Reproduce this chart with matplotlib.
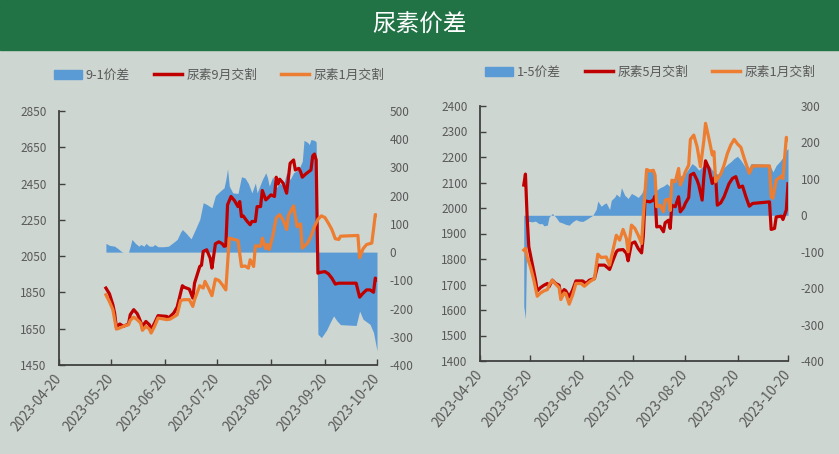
import matplotlib.pyplot as plt
import matplotlib.dates as mdates
from matplotlib.patches import Patch, Rectangle
from matplotlib.lines import Line2D
import pandas as pd

plt.rcParams['font.family'] = ['Noto Sans CJK SC', 'DejaVu Sans']
plt.rcParams['axes.unicode_minus'] = False

# ---- left panel: 9-1 spread ----
l_red_dates = ['05-17', '05-19', '05-21', '05-22', '05-23', '05-25', '05-27', '05-30', '05-31', '06-02',
               '06-04', '06-05', '06-07', '06-09', '06-11', '06-12', '06-14', '06-16', '06-21', '06-22',
               '06-25', '06-27', '06-30', '07-01', '07-04', '07-06', '07-07', '07-10', '07-11', '07-12',
               '07-14', '07-16', '07-17', '07-19', '07-21', '07-23', '07-24', '07-25', '07-26', '07-28',
               '07-30', '08-01', '08-02', '08-03', '08-04', '08-06', '08-08', '08-09', '08-11', '08-12',
               '08-14', '08-15', '08-17', '08-18', '08-20', '08-22', '08-23', '08-24', '08-25', '08-27',
               '08-29', '08-31', '09-02', '09-03', '09-05', '09-06', '09-07', '09-09', '09-12', '09-13',
               '09-14', '09-15', '09-16', '09-17', '09-20', '09-22', '09-24', '09-26', '09-28', '10-08',
               '10-10', '10-12', '10-14', '10-16', '10-18', '10-19', '10-20']
l_red = [1874, 1843, 1782, 1736, 1659, 1676, 1663, 1676, 1727, 1755,
         1733, 1712, 1663, 1690, 1672, 1644, 1681, 1722, 1718, 1709,
         1736, 1769, 1887, 1879, 1868, 1819, 1901, 1993, 2000, 2076,
         2085, 2039, 1984, 2118, 2129, 2118, 2104, 2107, 2333, 2379,
         2356, 2323, 2351, 2268, 2272, 2245, 2223, 2241, 2241, 2323,
         2323, 2412, 2360, 2369, 2388, 2379, 2485, 2448, 2474, 2452,
         2397, 2562, 2580, 2525, 2534, 2516, 2485, 2503, 2525, 2602,
         2613, 2580, 1956, 1960, 1965, 1953, 1929, 1896, 1901, 1901,
         1824, 1846, 1864, 1864, 1851, 1929, 1920]

l_org_dates = ['05-17', '05-19', '05-21', '05-23', '05-25', '05-28', '05-30', '05-31', '06-02', '06-04',
               '06-06', '06-07', '06-09', '06-11', '06-12', '06-14', '06-16', '06-21', '06-23', '06-27',
               '06-29', '07-01', '07-04', '07-06', '07-07', '07-10', '07-12', '07-13', '07-15', '07-17',
               '07-19', '07-21', '07-23', '07-25', '07-27', '07-29', '08-01', '08-03', '08-05', '08-07',
               '08-08', '08-10', '08-11', '08-14', '08-15', '08-17', '08-18', '08-19', '08-21', '08-23',
               '08-25', '08-27', '08-29', '08-30', '09-02', '09-03', '09-04', '09-06', '09-07', '09-10',
               '09-12', '09-14', '09-16', '09-18', '09-20', '09-22', '09-24', '09-26', '09-28', '09-29',
               '10-09', '10-10', '10-12', '10-14', '10-17', '10-18', '10-19', '10-20']
l_org = [1837, 1800, 1755, 1648, 1654, 1667, 1672, 1696, 1714, 1700,
         1681, 1641, 1663, 1648, 1626, 1663, 1709, 1700, 1703, 1727,
         1806, 1810, 1810, 1773, 1810, 1887, 1874, 1911, 1874, 1832,
         1924, 1916, 1892, 1864, 2149, 2144, 2136, 1993, 1996, 1984,
         2030, 1993, 2107, 2104, 2149, 2091, 2114, 2087, 2160, 2261,
         2279, 2248, 2197, 2274, 2327, 2268, 2213, 2228, 2094, 2122,
         2160, 2213, 2253, 2272, 2263, 2232, 2197, 2146, 2142, 2160,
         2164, 2041, 2091, 2114, 2122, 2197, 2279, 2274]

l_spr_dates = ['05-17', '05-19', '05-22', '05-24', '05-26', '05-27', '05-30', '05-31', '06-01', '06-03',
               '06-05', '06-06', '06-08', '06-09', '06-11', '06-13', '06-14', '06-16', '06-19', '06-22',
               '06-25', '06-27', '06-29', '06-30', '07-02', '07-05', '07-07', '07-10', '07-12', '07-14',
               '07-17', '07-19', '07-21', '07-24', '07-25', '07-26', '07-27', '07-29', '08-01', '08-03',
               '08-05', '08-07', '08-09', '08-11', '08-12', '08-15', '08-17', '08-18', '08-19', '08-21',
               '08-23', '08-25', '08-27', '08-29', '08-31', '09-02', '09-05', '09-07', '09-08', '09-10',
               '09-11', '09-12', '09-14', '09-15', '09-16', '09-17', '09-18', '09-21', '09-23', '09-25',
               '09-27', '09-29', '10-08', '10-10', '10-12', '10-16', '10-18', '10-20']
l_spr = [31, 24, 21, 12, 2, 0, 0, 21, 45, 31,
         21, 27, 21, 31, 21, 21, 27, 19, 19, 21,
         35, 45, 71, 80, 68, 47, 74, 116, 175, 169,
         157, 200, 212, 228, 257, 295, 234, 210, 208, 267,
         263, 243, 210, 245, 210, 257, 281, 263, 234, 267,
         228, 245, 234, 281, 257, 281, 293, 322, 396, 389,
         381, 399, 396, 390, -291, -297, -303, -276, -250, -226,
         -244, -257, -260, -209, -238, -256, -285, -350]

# ---- right panel: 1-5 spread ----
r_red_dates = ['05-16', '05-17', '05-18', '05-19', '05-21', '05-23', '05-24', '05-26', '05-28', '05-30',
               '05-31', '06-02', '06-04', '06-06', '06-07', '06-09', '06-10', '06-12', '06-14', '06-16',
               '06-20', '06-22', '06-24', '06-27', '06-29', '07-03', '07-06', '07-08', '07-10', '07-11',
               '07-14', '07-16', '07-17', '07-19', '07-21', '07-23', '07-25', '07-26', '07-27', '07-30',
               '08-01', '08-02', '08-03', '08-05', '08-07', '08-08', '08-10', '08-11', '08-12', '08-14',
               '08-16', '08-17', '08-19', '08-20', '08-22', '08-23', '08-25', '08-27', '08-28', '08-30',
               '08-31', '09-01', '09-03', '09-05', '09-06', '09-07', '09-08', '09-10', '09-12', '09-15',
               '09-17', '09-19', '09-21', '09-23', '09-25', '09-27', '09-29', '10-09', '10-10', '10-12',
               '10-13', '10-16', '10-17', '10-19', '10-20']
r_red = [2090, 2133, 1965, 1848, 1782, 1717, 1675, 1688, 1697, 1704,
         1691, 1717, 1704, 1697, 1658, 1680, 1675, 1651, 1678, 1714,
         1714, 1704, 1717, 1723, 1776, 1776, 1759, 1795, 1828, 1835,
         1837, 1822, 1793, 1861, 1867, 1841, 1824, 1887, 2028, 2024,
         2031, 2047, 1926, 1928, 1907, 1942, 1952, 1920, 2011, 2005,
         2044, 1985, 2002, 2018, 2041, 2129, 2136, 2109, 2090, 2031,
         2123, 2185, 2155, 2096, 2116, 2123, 2011, 2020, 2044, 2096,
         2116, 2123, 2081, 2086, 2044, 2007, 2018, 2024, 1916, 1920,
         1965, 1968, 1955, 1992, 2095]

r_org_dates = ['05-16', '05-17', '05-18', '05-20', '05-22', '05-24', '05-26', '05-28', '05-30', '05-31',
               '06-02', '06-04', '06-06', '06-07', '06-09', '06-10', '06-12', '06-14', '06-16', '06-19',
               '06-21', '06-24', '06-27', '06-29', '07-01', '07-04', '07-06', '07-08', '07-10', '07-12',
               '07-14', '07-16', '07-17', '07-19', '07-21', '07-23', '07-25', '07-26', '07-28', '07-30',
               '08-01', '08-02', '08-03', '08-05', '08-07', '08-08', '08-10', '08-11', '08-12', '08-14',
               '08-16', '08-17', '08-19', '08-20', '08-22', '08-23', '08-25', '08-27', '08-29', '08-31',
               '09-01', '09-03', '09-05', '09-06', '09-07', '09-10', '09-12', '09-14', '09-16', '09-18',
               '09-20', '09-22', '09-24', '09-27', '09-29', '10-09', '10-10', '10-11', '10-13', '10-16',
               '10-17', '10-19', '10-20']
r_org = [1835, 1841, 1808, 1769, 1717, 1654, 1667, 1675, 1680, 1697,
         1717, 1701, 1688, 1641, 1667, 1664, 1623, 1658, 1704, 1704,
         1693, 1710, 1723, 1819, 1806, 1808, 1776, 1835, 1893, 1874,
         1916, 1880, 1828, 1933, 1920, 1893, 1861, 1965, 2151, 2145,
         2148, 2129, 2005, 2011, 1985, 2031, 2034, 1990, 2109, 2103,
         2155, 2090, 2123, 2142, 2168, 2269, 2286, 2240, 2162, 2264,
         2332, 2273, 2208, 2221, 2103, 2133, 2168, 2214, 2247, 2269,
         2251, 2238, 2195, 2136, 2165, 2165, 2044, 2038, 2109, 2125,
         2116, 2277, 2269]

r_spr_dates = ['05-16', '05-17', '05-18', '05-21', '05-23', '05-25', '05-27', '05-28', '05-30', '05-31',
               '06-02', '06-04', '06-06', '06-08', '06-10', '06-12', '06-14', '06-16', '06-18', '06-20',
               '06-22', '06-24', '06-26', '06-28', '06-29', '07-01', '07-03', '07-04', '07-06', '07-07',
               '07-09', '07-10', '07-12', '07-13', '07-15', '07-17', '07-19', '07-21', '07-23', '07-25',
               '07-26', '07-28', '07-30', '08-01', '08-03', '08-05', '08-07', '08-09', '08-11', '08-12',
               '08-14', '08-16', '08-18', '08-20', '08-22', '08-24', '08-26', '08-28', '08-30', '09-01',
               '09-03', '09-05', '09-08', '09-09', '09-12', '09-14', '09-16', '09-18', '09-20', '09-22',
               '09-24', '09-26', '09-28', '10-09', '10-11', '10-13', '10-15', '10-17', '10-19', '10-20']
r_spr = [-250, -284, -16, -18, -16, -23, -23, -29, -27, -5,
         5, -5, -18, -21, -25, -27, -18, -12, -16, -17,
         -12, -6, 0, 16, 39, 25, 32, 34, 16, 41,
         50, 58, 50, 76, 55, 46, 60, 55, 49, 60,
         69, 124, 124, 119, 69, 76, 80, 87, 78, 101,
         101, 105, 110, 115, 128, 142, 135, 124, 133, 140,
         137, 124, 113, 116, 131, 140, 147, 156, 162, 151,
         137, 124, 142, 140, 119, 137, 147, 159, 179, 183]

tick_dates = ['04-20', '05-20', '06-20', '07-20', '08-20', '09-20', '10-20']

BG = '#CED6D1'
GREEN = '#217346'
BLUE = '#5B9BD5'
RED = '#C00000'
ORANGE = '#ED7D31'
TXT = '#595959'
AX = '#404040'
W, H = 839, 454


def dt(lst):
    return pd.to_datetime(['2023-' + s for s in lst])


fig = plt.figure(figsize=(W / 100, H / 100), dpi=100)
fig.patch.set_facecolor(BG)
fig.patches.append(Rectangle((0, 1 - 50 / H), 1, 50 / H, transform=fig.transFigure,
                             color=GREEN, zorder=0))
fig.text(0.5, 1 - 25 / H, '尿素价差', color='white', fontsize=17, ha='center', va='center')


def panel(box, red_d, red_v, org_d, org_v, spr_d, spr_v, ylim, yticks, y2lim, y2ticks,
          labels, leg_xy):
    x0, y0, x1, y1 = box
    ax = fig.add_axes([x0 / W, 1 - y1 / H, (x1 - x0) / W, (y1 - y0) / H])
    ax2 = ax.twinx()
    ax.set_zorder(2)
    ax2.set_zorder(1)
    ax.patch.set_visible(False)
    ax2.patch.set_visible(False)

    ax2.fill_between(dt(spr_d), 0, spr_v, color=BLUE, lw=0)
    ax.plot(dt(red_d), red_v, color=RED, lw=2.3, solid_joinstyle='round')
    ax.plot(dt(org_d), org_v, color=ORANGE, lw=2.3, solid_joinstyle='round')

    ax.set_xlim(pd.Timestamp('2023-04-20'), pd.Timestamp('2023-10-20'))
    ax.set_ylim(*ylim)
    ax.set_yticks(yticks)
    ax2.set_ylim(*y2lim)
    ax2.set_yticks(y2ticks)
    ax.set_xticks(dt(tick_dates))
    ax.xaxis.set_major_formatter(mdates.DateFormatter('%Y-%m-%d'))

    for s in ['top', 'right']:
        ax.spines[s].set_visible(False)
    for s in ax2.spines.values():
        s.set_visible(False)
    for s in ['left', 'bottom']:
        ax.spines[s].set_color(AX)
        ax.spines[s].set_linewidth(1.3)

    ax.tick_params(axis='both', direction='in', length=4, width=1, color=AX,
                   labelsize=8.5, labelcolor=TXT)
    ax.tick_params(axis='y', pad=9)
    ax.tick_params(axis='x', pad=8, labelsize=9.8)
    ax2.tick_params(axis='y', length=0, pad=9, labelsize=8.5, labelcolor=TXT)
    for lab in ax.get_xticklabels():
        lab.set_rotation(50)
        lab.set_ha('right')
        lab.set_va('center')
        lab.set_rotation_mode('anchor')

    handles = [Patch(color=BLUE), Line2D([], [], color=RED, lw=2.5),
               Line2D([], [], color=ORANGE, lw=2.5)]
    fig.legend(handles, labels, loc='center', bbox_to_anchor=(leg_xy[0] / W, 1 - leg_xy[1] / H),
               ncol=3, frameon=False, fontsize=9.2, handlelength=2.2, handleheight=0.7,
               handletextpad=0.3, columnspacing=1.9, labelcolor=TXT)


panel((59, 111, 377, 365), l_red_dates, l_red, l_org_dates, l_org, l_spr_dates, l_spr,
      (1450, 2850), range(1450, 2851, 200), (-400, 500), range(-400, 501, 100),
      ['9-1价差', '尿素9月交割', '尿素1月交割'], (219, 75))
panel((480, 106, 788, 361), r_red_dates, r_red, r_org_dates, r_org, r_spr_dates, r_spr,
      (1400, 2400), range(1400, 2401, 100), (-400, 300), range(-400, 301, 100),
      ['1-5价差', '尿素5月交割', '尿素1月交割'], (650, 72))

fig.savefig('out.png', dpi=100, facecolor=BG)
